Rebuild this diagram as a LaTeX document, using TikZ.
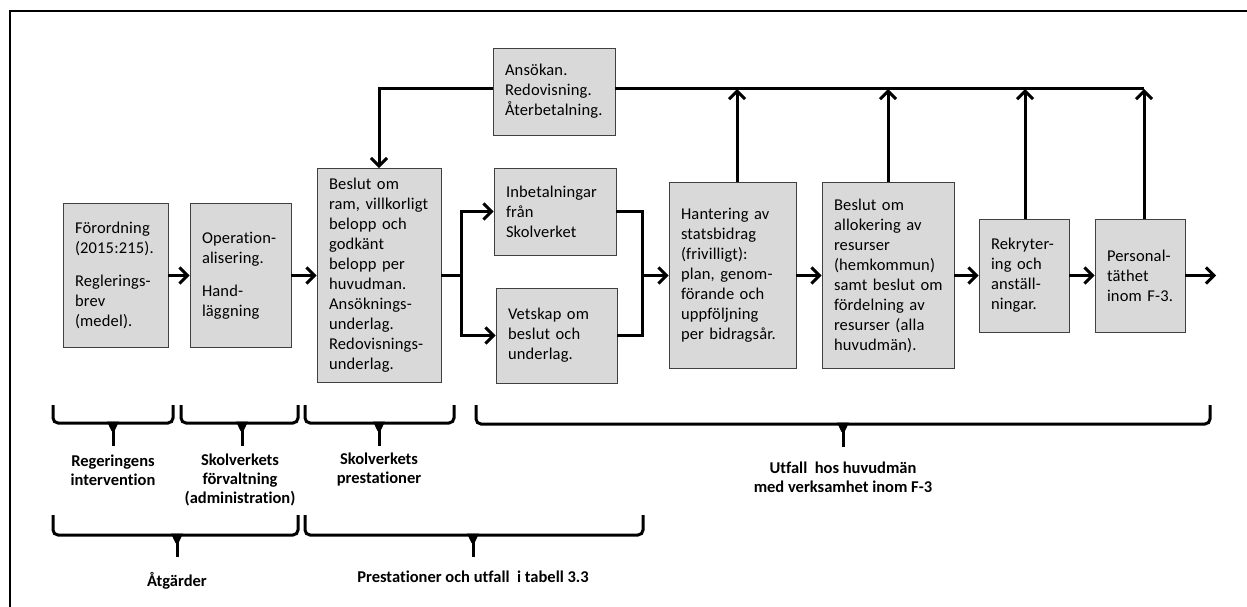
\documentclass[tikz,border=0pt]{standalone}
\usepackage{fontspec}
\setmainfont[Ligatures=NoCommon]{Carlito}
\usetikzlibrary{arrows.meta}
\definecolor{boxgray}{HTML}{D9D9D9}
\definecolor{boxline}{HTML}{404040}
\newcommand{\mybrace}[6]{%
  \draw[brc] (#1,#4) -- (#1,#5) -- (#2,#5) -- (#2,#4);
  \draw[line width=3pt] (#3,#5) -- (#3,#6);
  \fill (#3-6,#5-1.5) -- (#3+6,#5-1.5) -- (#3+1.5,#5+8) -- (#3-1.5,#5+8) -- cycle;
}
\begin{document}
\begin{tikzpicture}[x=1pt,y=-1pt,
  box/.style={draw=boxline,line width=0.8pt,fill=boxgray,align=left,
     inner xsep=12pt,inner ysep=0pt,
     font=\fontsize{16.5}{20}\selectfont\addfontfeature{LetterSpace=1},anchor=center},
  conn/.style={line width=3pt,-{Straight Barb[length=8pt,width=16pt]}},
  plainline/.style={line width=3pt},
  lbl/.style={align=center,font=\bfseries\fontsize{16.5}{19}\selectfont,inner sep=0pt},
  brc/.style={line width=3pt,rounded corners=5pt},
]
\useasboundingbox (0,0) rectangle (1247,607);
\draw[line width=2pt] (10,607) -- (10,11) -- (1247,11);

% boxes
\node[box,text width=81pt,minimum height=144pt] (b1) at (115.5,275.5) {Förordning\\(2015:215).\\[13pt]Reglerings-\\brev\\(medel).};
\node[box,text width=77pt,minimum height=144pt] (b2) at (240.5,275.5) {Operation-\\alisering.\\[13pt]Hand-\\läggning};
\node[box,text width=100pt,minimum height=214pt] (b3) at (379,275.5) {Beslut~om\\ram,~villkorligt\\belopp~och\\godkänt\\belopp~per\\huvudman.\\Ansöknings-\\underlag.\\Redovisnings-\\underlag.};
\node[box,text width=98pt,minimum height=87pt] (b4) at (554,91.5) {Ansökan.\\Redovisning.\\Återbetalning.};
\node[box,text width=98pt,minimum height=87pt] (b5) at (555,211.5) {Inbetalningar\\från\\Skolverket};
\node[box,text width=97pt,minimum height=95pt] (b6) at (556.5,335.5) {Vetskap~om\\beslut~och\\underlag.};
\node[box,text width=103pt,minimum height=186pt] (b7) at (732.5,275.5) {Hantering~av\\statsbidrag\\(frivilligt):\\plan,~genom-\\förande~och\\uppföljning\\per~bidragsår.};
\node[box,text width=108pt,minimum height=186pt] (b8) at (888,275.5) {Beslut~om\\allokering~av\\resurser\\(hemkommun)\\samt~beslut~om\\fördelning~av\\resurser~(alla\\huvudmän).};
\node[box,text width=66pt,minimum height=113pt] (b9) at (1024,275.5) {Rekryter-\\ing~och\\anställ-\\ningar.};
\node[box,text width=66pt,minimum height=113pt] (b10) at (1140,275.5) {Personal-\\täthet\\inom~F-3.};

% coordinates
\coordinate (j1) at (461,275.5);
\coordinate (j2) at (642,275.5);
\coordinate (tl) at (379,89);
\coordinate (tr) at (1144,89);
\coordinate (out) at (1216,275.5);

% main flow
\draw[conn] (b1) -- (b2);
\draw[conn] (b2) -- (b3);
\draw[plainline] (b3.east) -- (j1);
\draw[conn] (j1) |- (b5.west);
\draw[conn] (j1) |- (b6.west);
\draw[plainline] (b5.east) -| (j2);
\draw[plainline] (b6.east) -| (j2);
\draw[conn] (j2) -- (b7.west);
\draw[conn] (b7) -- (b8);
\draw[conn] (b8) -- (b9);
\draw[conn] (b9) -- (b10);
\draw[conn] (b10.east) -- (out);

% feedback
\draw[plainline] (b4.east |- tr) -- (tr);
\draw[conn] (b4.west |- tl) -- (tl) -- (b3.north);
\draw[conn] ([xshift=4.5pt]b7.north) -- ([xshift=4.5pt]b7.north |- tl);
\draw[conn] (b8.north) -- (b8.north |- tl);
\draw[conn] ([xshift=1pt]b9.north) -- ([xshift=1pt]b9.north |- tl);
\draw[conn] ([xshift=4pt]b10.north) -- (tr);

% braces
\mybrace{53}{173}{113}{405}{423}{446}
\mybrace{181}{298}{242}{405}{423}{446}
\mybrace{305}{454}{379}{405}{423}{446}
\mybrace{476}{1210}{843}{405}{424}{447}
\mybrace{53}{298}{177}{515}{535}{557}
\mybrace{305}{643}{473}{515}{535}{557}

% labels
\node[lbl] (l1) at (113,470.5) {Regeringens\\intervention};
\node[lbl] (l2) at (240,480) {Skolverkets\\förvaltning\\(administration)};
\node[lbl] (l3) at (379,469.5) {Skolverkets\\prestationer};
\node[lbl] (l4) at (843,477) {Utfall\ \ hos huvudmän\\med verksamhet inom F-3};
\node[lbl] (l5) at (177,581) {Åtgärder};
\node[lbl] (l6) at (473,577) {Prestationer och utfall\ \ i tabell 3.3};
\end{tikzpicture}
\end{document}
